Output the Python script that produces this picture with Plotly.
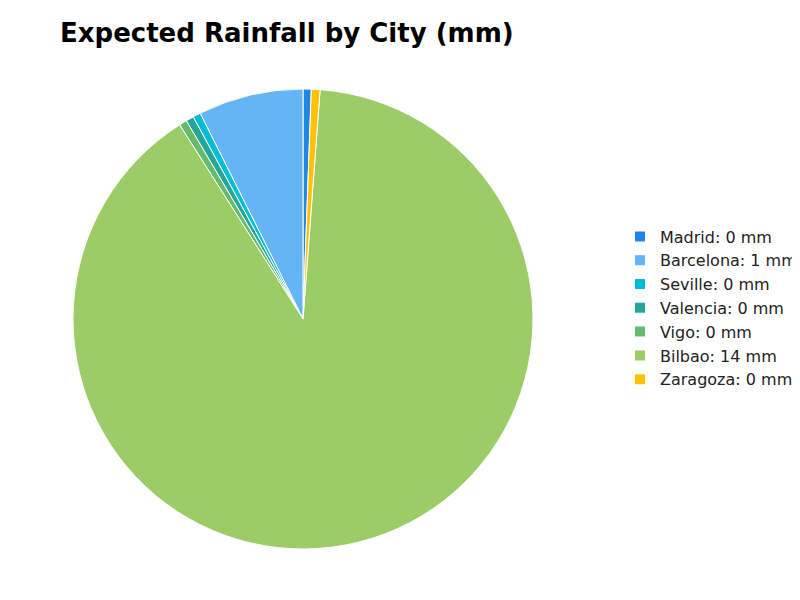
import plotly.graph_objects as go

cities = ["Madrid", "Barcelona", "Seville", "Valencia", "Vigo", "Bilbao", "Zaragoza"]
rain = [0.09, 1.15, 0.085, 0.085, 0.085, 14.0, 0.095]
colors = ["#1E88E5", "#64B5F6", "#00BCD4", "#26A69A", "#66BB6A", "#9CCC65", "#FFC107"]
labels = [f"{c}: {round(v)} mm" for c, v in zip(cities, rain)]

fig = go.Figure(go.Pie(
    labels=labels, values=rain, sort=False, direction="counterclockwise", rotation=0,
    marker=dict(colors=colors, line=dict(color="white", width=1)),
    textinfo="none", hoverinfo="label+percent",
    domain=dict(x=[0.08125, 0.65625], y=[0.0984, 0.865]),
))
fig.update_layout(
    width=800, height=600,
    font=dict(family="DejaVu Sans", size=14, color="#222"),
    title=dict(text="<b>Expected Rainfall by City (mm)</b>", x=0.065, xanchor="left",
               y=0.958, yanchor="middle", font=dict(size=26, color="black")),
    margin=dict(l=0, r=0, t=0, b=0),
    paper_bgcolor="white",
    legend=dict(x=0.765, y=0.5, xanchor="left", yanchor="middle", font=dict(size=16),
                itemsizing="constant"),
)
fig.write_html("out.html")
